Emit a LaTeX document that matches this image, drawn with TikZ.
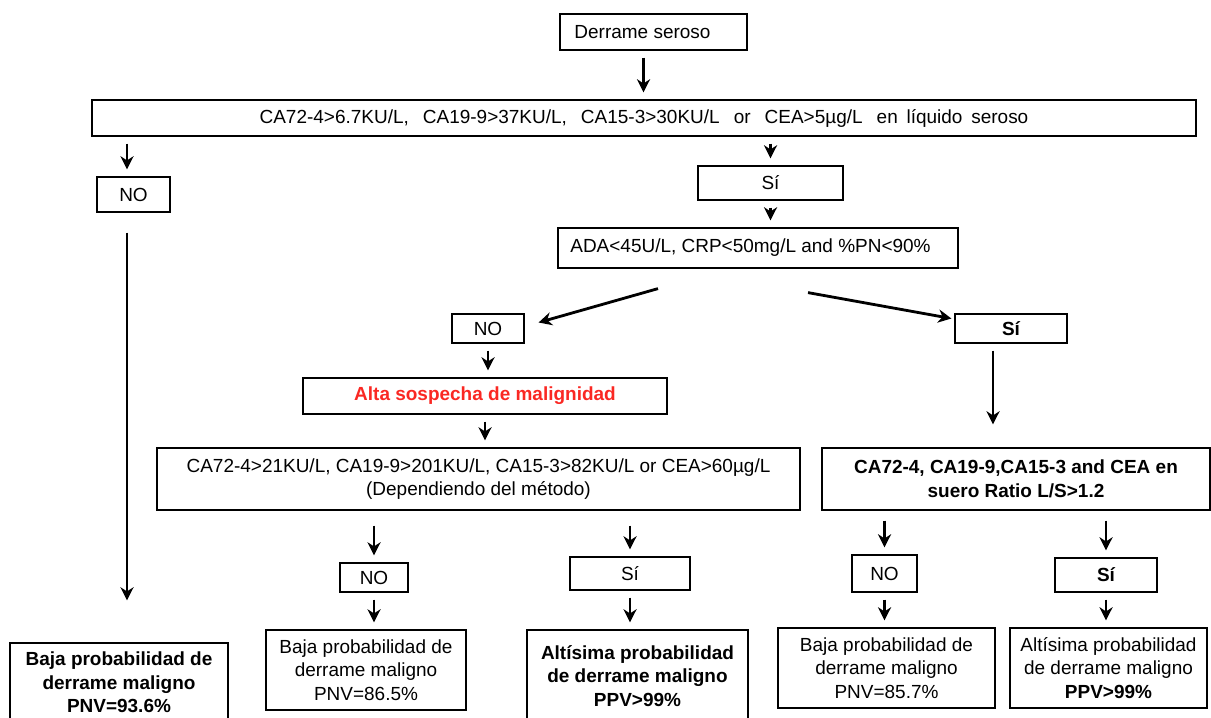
\documentclass[tikz,border=0pt]{standalone}
\usepackage{fontspec}
\setmainfont{Liberation Sans}
\usetikzlibrary{arrows.meta}
\definecolor{rojo}{RGB}{250,40,35}

\begin{document}
\begin{tikzpicture}[
	caja/.style={draw, line width=0.7pt, inner sep=1pt, align=center, font=\fontsize{10.8}{13.3}\selectfont},
	negrita/.style={font=\fontsize{10.8}{13.3}\selectfont\bfseries},
	flecha/.style={line width=1.6pt, -{Stealth[length=7.5pt,width=7.5pt]}, shorten <=0.14cm, shorten >=0.14cm}
	]
	\useasboundingbox (0,0) rectangle (24.22,-14.36);
	\node[caja, minimum width=3.74cm, minimum height=0.72cm] (derrame) at (13.07,-0.64) {Derrame seroso\hspace*{0.44cm}};
	\node[caja, minimum width=22.08cm, minimum height=0.72cm] (panel) at (12.88,-2.36) {CA72-4>6.7KU/L,\hspace{5pt} CA19-9>37KU/L,\hspace{5pt} CA15-3>30KU/L\hspace{5pt} or\hspace{5pt} CEA>5µg/L\hspace{5pt} en\hspace{2pt} líquido\hspace{2pt} seroso};
	\node[caja, minimum width=1.46cm, minimum height=0.70cm] (no1) at (2.67,-3.89) {NO};
	\node[caja, negrita, minimum width=4.36cm, minimum height=1.58cm] (res1) at (2.38,-13.65) {Baja probabilidad de\\derrame maligno\\PNV=93.6\%};
	\node[caja, minimum width=2.90cm, minimum height=0.68cm] (si1) at (15.41,-3.66) {Sí};
	\node[caja, minimum width=8.0cm, minimum height=0.8cm] (ada) at (15.16,-4.96) {ADA<45U/L,\ CRP<50mg/L and \%PN<90\%\hspace*{0.3cm}};
	\node[caja, minimum width=1.44cm, minimum height=0.58cm] (no2) at (9.76,-6.57) {NO};
	\node[caja, negrita, minimum width=2.24cm, minimum height=0.58cm] (si2) at (20.22,-6.57) {Sí};
	\node[caja, negrita, minimum width=7.28cm, minimum height=0.72cm, text=rojo] (alta) at (9.70,-7.92) {Alta sospecha de malignidad};
	\node[caja, minimum width=12.86cm, minimum height=1.24cm] (metodo) at (9.57,-9.58) {CA72-4>21KU/L,\ CA19-9>201KU/L,\ CA15-3>82KU/L\ or CEA>60µg/L\\(Dependiendo del método)};
	\node[caja, negrita, minimum width=7.76cm, minimum height=1.24cm] (ratio) at (20.32,-9.58) {CA72-4, CA19-9,CA15-3 and CEA en\\suero Ratio L/S>1.2};
	\node[caja, minimum width=1.36cm, minimum height=0.58cm] (no3) at (7.48,-11.55) {NO};
	\node[caja, minimum width=2.40cm, minimum height=0.66cm] (si3) at (12.60,-11.47) {Sí};
	\node[caja, minimum width=4.0cm, minimum height=1.6cm] (res2) at (7.32,-13.40) {Baja probabilidad\ de\\derrame maligno\\PNV=86.5\%};
	\node[caja, negrita, minimum width=4.42cm, minimum height=1.84cm] (res3) at (12.75,-13.52) {Altísima probabilidad\\de derrame maligno\\PPV>99\%};
	\node[caja, minimum width=1.30cm, minimum height=0.74cm] (no4) at (17.69,-11.47) {NO};
	\node[caja, negrita, minimum width=2.04cm, minimum height=0.68cm] (si4) at (22.12,-11.50) {Sí};
	\node[caja, minimum width=4.34cm, minimum height=1.6cm] (res4) at (17.73,-13.36) {Baja probabilidad de\\derrame maligno\\PNV=85.7\%};
	\node[caja, minimum width=3.94cm, minimum height=1.6cm] (res5) at (22.17,-13.36) {Altísima probabilidad\\de derrame maligno\\\textbf{PPV>99\%}};

	\draw[flecha] ([xshift=-0.2cm]derrame.south) -- ([xshift=-0.2cm]derrame.south |- panel.north);
	\draw[flecha] ([xshift=-0.13cm]no1.north |- panel.south) -- ([xshift=-0.13cm]no1.north);
	\draw[flecha, shorten <=0.4cm, shorten >=0.84cm] ([xshift=-0.13cm]no1.south) -- ([xshift=-0.13cm]no1.south |- res1.north);
	\draw[flecha] (si1 |- panel.south) -- (si1);
	\draw[flecha] (si1) -- (si1 |- ada.north);
	\draw[flecha, shorten <=0pt, shorten >=0pt] ([xshift=-2cm,yshift=-0.4cm]ada.south) -- ([xshift=0.28cm,yshift=0.12cm]no2.east);
	\draw[flecha, shorten <=0pt, shorten >=0pt] ([xshift=1cm,yshift=-0.48cm]ada.south) -- ([xshift=-0.06cm,yshift=0.2cm]si2.west);
	\draw[flecha] (no2) -- (no2 |- alta.north);
	\draw[flecha, shorten >=0.46cm] ([xshift=-0.36cm]si2.south) -- ([xshift=-0.36cm]si2.south |- ratio.north);
	\draw[flecha] (alta) -- (alta |- metodo.north);
	\draw[flecha, shorten <=0.3cm] (no3 |- metodo.south) -- (no3);
	\draw[flecha] (no3) -- (no3 |- res2.north);
	\draw[flecha, shorten <=0.3cm] (si3 |- metodo.south) -- (si3);
	\draw[flecha] (si3) -- (si3 |- res3.north);
	\draw[flecha, shorten <=0.2cm] (no4 |- ratio.south) -- (no4);
	\draw[flecha] (no4) -- (no4 |- res4.north);
	\draw[flecha, shorten <=0.2cm] (si4 |- ratio.south) -- (si4);
	\draw[flecha] (si4) -- (si4 |- res5.north);
\end{tikzpicture}
\end{document}
